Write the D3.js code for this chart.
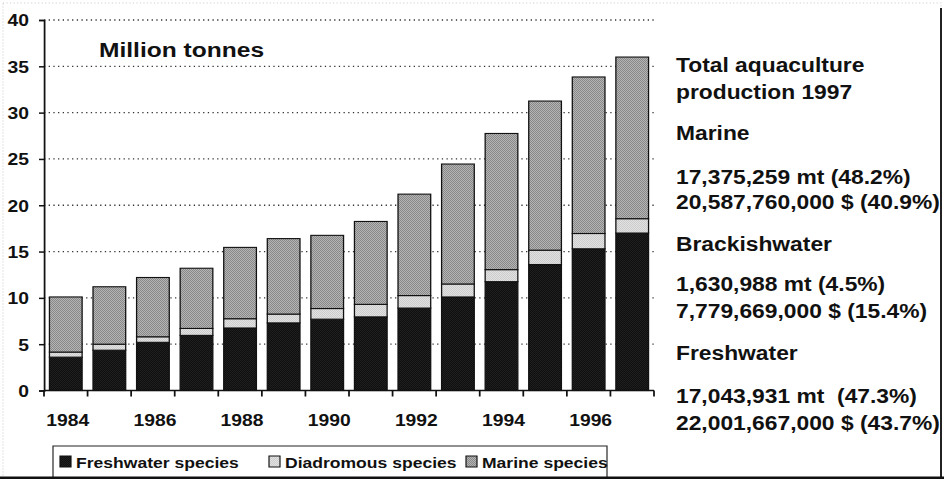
<!DOCTYPE html>
<html>
<head>
<meta charset="utf-8">
<script src="https://cdn.jsdelivr.net/npm/d3@7"></script>
<style>
  body { margin: 0; background: #fff; }
  svg { display: block; }
  text { font-family: "Liberation Sans", Arial, sans-serif; font-weight: bold; fill: #111; }
</style>
</head>
<body>
<svg id="chart"></svg>
<script>
// data, million tonnes
var years      = [1984, 1985, 1986, 1987, 1988, 1989, 1990, 1991, 1992, 1993, 1994, 1995, 1996, 1997];
var freshwater = [3.6, 4.35, 5.2, 5.95, 6.75, 7.3, 7.7, 7.95, 8.9, 10.1, 11.75, 13.6, 15.3, 17.0];
var diadromous = [0.55, 0.65, 0.6, 0.75, 1.0, 0.95, 1.15, 1.35, 1.35, 1.4, 1.3, 1.55, 1.65, 1.55];
var marine     = [5.95, 6.2, 6.4, 6.5, 7.7, 8.15, 7.9, 8.95, 10.95, 12.95, 14.7, 16.1, 16.9, 17.45];

var yTicks     = [0, 5, 10, 15, 20, 25, 30, 35, 40];
var yearLabels = [1984, 1986, 1988, 1990, 1992, 1994, 1996];
var seriesKeys = ["fresh", "diad", "marine"];
var seriesNames = ["Freshwater species", "Diadromous species", "Marine species"];
var unitLabel  = "Million tonnes";

var notes = [
  "Total aquaculture",
  "production 1997",
  "Marine",
  "17,375,259 mt (48.2%)",
  "20,587,760,000 $ (40.9%)",
  "Brackishwater",
  "1,630,988 mt (4.5%)",
  "7,779,669,000 $ (15.4%)",
  "Freshwater",
  "17,043,931 mt\u00a0 (47.3%)",
  "22,001,667,000 $ (43.7%)"
];

// layout (screen px); the scan is stretched sideways, so x is drawn in a squeezed space
var W = 944, H = 479, S = 1.17;
var X = function(px) { return px / S; };
var noteY = [72, 99, 140, 184, 209, 251, 291, 318, 360, 403, 430];
var legendX = [60, 269, 466];

var svg = d3.select("#chart")
    .attr("width", W)
    .attr("height", H)
    .attr("viewBox", "0 0 " + X(W) + " " + H)
    .attr("preserveAspectRatio", "none");

// halftone fills, one screen pixel per cell
var defs = svg.append("defs");
function pat(id, c1, c2) {
  var p = defs.append("pattern").attr("id", id)
      .attr("patternUnits", "userSpaceOnUse").attr("width", X(2)).attr("height", 2);
  p.append("rect").attr("width", X(2)).attr("height", 2).attr("fill", c1);
  p.append("rect").attr("width", X(1)).attr("height", 1).attr("fill", c2);
  p.append("rect").attr("x", X(1)).attr("y", 1).attr("width", X(1)).attr("height", 1).attr("fill", c2);
}
pat("pFresh", "#0c0c0c", "#222");
pat("pDiad", "#e6e6e6", "#c8c8c8");
pat("pMarine", "#bdbdbd", "#808080");
var fills = { fresh: "url(#pFresh)", diad: "url(#pDiad)", marine: "url(#pMarine)" };

// frame of the scanned figure
svg.append("rect")
    .attr("x", X(3)).attr("y", 3).attr("width", X(938)).attr("height", 480)
    .attr("fill", "none").attr("stroke", "#cfcfcf").attr("stroke-dasharray", "1,2");

var x = d3.scaleBand()
    .domain(years)
    .range([X(44), X(654)])
    .paddingInner(0.25)
    .paddingOuter(0.125);

var y = d3.scaleLinear()
    .domain([0, 40])
    .range([390.5, 20]);

// gridlines
svg.append("g").selectAll("line")
  .data(yTicks.filter(function(d) { return d > 0; }))
  .enter().append("line")
    .attr("x1", X(44)).attr("x2", X(654))
    .attr("y1", function(d) { return y(d); })
    .attr("y2", function(d) { return y(d); })
    .attr("stroke", "#333").attr("stroke-width", 1.3)
    .attr("stroke-dasharray", "1.1,2.9");

var rows = years.map(function(yr, i) {
  return { year: yr, fresh: freshwater[i], diad: diadromous[i], marine: marine[i] };
});
var stacked = d3.stack().keys(seriesKeys)(rows);

svg.append("g").selectAll("g")
  .data(stacked)
  .enter().append("g")
    .attr("fill", function(d) { return fills[d.key]; })
  .selectAll("rect")
  .data(function(d) { return d; })
  .enter().append("rect")
    .attr("x", function(d) { return x(d.data.year); })
    .attr("width", x.bandwidth())
    .attr("y", function(d) { return y(d[1]); })
    .attr("height", function(d) { return y(d[0]) - y(d[1]); })
    .attr("stroke", "#111").attr("stroke-width", 1.1);

// y axis
var yAxis = svg.append("g")
    .attr("transform", "translate(" + X(44) + ",0)")
    .call(d3.axisLeft(y).tickValues(yTicks).tickSize(X(5)).tickPadding(X(10)));
yAxis.select(".domain").attr("stroke", "#111").attr("stroke-width", 1.5);
yAxis.selectAll(".tick line").attr("stroke", "#111").attr("stroke-width", 1.5);
yAxis.selectAll(".tick text")
    .attr("font-size", 16.5)
    .attr("dy", "0.36em")
    .style("font-family", '"Liberation Sans", Arial, sans-serif')
    .style("font-weight", "bold")
    .attr("fill", "#111");

// x axis with ticks on category boundaries
var step = x.step();
var edge0 = x(years[0]) - (step - x.bandwidth()) / 2;
var bounds = d3.range(years.length + 1).map(function(i) { return edge0 + i * step; });
svg.append("line")
    .attr("x1", X(44)).attr("x2", X(654))
    .attr("y1", y(0)).attr("y2", y(0))
    .attr("stroke", "#111").attr("stroke-width", 1.5);
svg.append("g").selectAll("line")
  .data(bounds)
  .enter().append("line")
    .attr("x1", function(d) { return d; }).attr("x2", function(d) { return d; })
    .attr("y1", y(0)).attr("y2", y(0) + 6)
    .attr("stroke", "#111").attr("stroke-width", 1.5);
svg.append("g").selectAll("text")
  .data(yearLabels)
  .enter().append("text")
    .attr("x", function(d) { return x(d) + x.bandwidth() / 2 + X(2); })
    .attr("y", 426)
    .attr("text-anchor", "middle")
    .attr("font-size", 16.5)
    .text(function(d) { return d; });

svg.append("text")
    .attr("x", X(99)).attr("y", 57)
    .attr("font-size", 21)
    .text(unitLabel);

// legend
svg.append("rect")
    .attr("x", X(53)).attr("y", 446)
    .attr("width", X(607 - 53)).attr("height", 40)
    .attr("fill", "#fff").attr("stroke", "#222").attr("stroke-width", 1);
var leg = svg.append("g").selectAll("g")
  .data(seriesKeys)
  .enter().append("g")
    .attr("transform", function(d, i) { return "translate(" + X(legendX[i]) + ",0)"; });
leg.append("rect")
    .attr("y", 456).attr("width", X(11)).attr("height", 11)
    .attr("fill", function(d) { return fills[d]; })
    .attr("stroke", "#111").attr("stroke-width", 1);
leg.append("text")
    .attr("x", X(16)).attr("y", 468)
    .attr("font-size", 15)
    .text(function(d, i) { return seriesNames[i]; });

// 1997 notes
svg.append("g").selectAll("text")
  .data(notes)
  .enter().append("text")
    .attr("x", X(676))
    .attr("y", function(d, i) { return noteY[i]; })
    .attr("font-size", 19.5)
    .text(function(d) { return d; });

// dark scan edges
svg.append("line")
    .attr("x1", X(941)).attr("x2", X(941)).attr("y1", 8).attr("y2", H)
    .attr("stroke", "#222").attr("stroke-width", X(2));
svg.append("line")
    .attr("x1", 0).attr("x2", X(W)).attr("y1", 478).attr("y2", 478)
    .attr("stroke", "#111").attr("stroke-width", 3);
</script>
</body>
</html>
